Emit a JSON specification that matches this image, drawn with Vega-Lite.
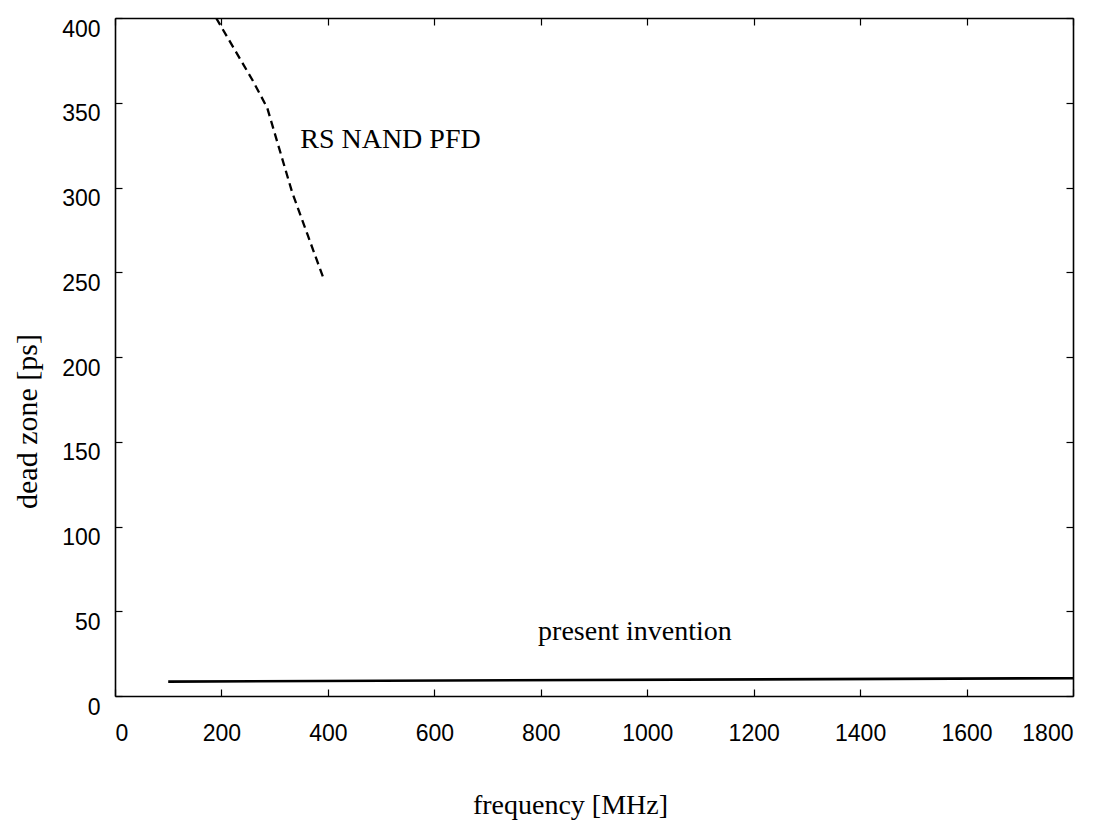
{
  "$schema": "https://vega.github.io/schema/vega-lite/v6.json",
  "width": 958,
  "height": 678,
  "autosize": "none",
  "padding": {"left": 115, "top": 18, "right": 27, "bottom": 127},
  "background": "white",
  "config": {
    "view": {"stroke": null},
    "axis": {
      "grid": false,
      "domainColor": "black",
      "domainWidth": 1.6,
      "tickColor": "black",
      "tickWidth": 1.2,
      "tickSize": -7,
      "labelColor": "black",
      "labelFont": "Liberation Sans",
      "labelFontSize": 23,
      "format": "d",
      "titleColor": "black",
      "titleFont": "Liberation Serif",
      "titleFontWeight": "normal"
    }
  },
  "datasets": {
    "curves": [
      {"series": "RS NAND PFD", "f": 190, "dz": 400},
      {"series": "RS NAND PFD", "f": 259, "dz": 363},
      {"series": "RS NAND PFD", "f": 286, "dz": 347},
      {"series": "RS NAND PFD", "f": 333, "dz": 297},
      {"series": "RS NAND PFD", "f": 362, "dz": 272},
      {"series": "RS NAND PFD", "f": 391, "dz": 247},
      {"series": "present invention", "f": 100, "dz": 8.5},
      {"series": "present invention", "f": 1800, "dz": 10.5}
    ],
    "labels": [
      {"f": 348, "dz": 328, "text": "RS NAND PFD"},
      {"f": 795, "dz": 38, "text": "present invention"}
    ]
  },
  "layer": [
    {
      "data": {"name": "curves"},
      "transform": [{"filter": "datum.series === 'RS NAND PFD'"}],
      "mark": {"type": "line", "color": "black", "strokeWidth": 2.3, "strokeDash": [8, 5], "clip": true},
      "encoding": {
        "x": {
          "field": "f", "type": "quantitative",
          "scale": {"domain": [0, 1800], "nice": false},
          "axis": {
            "orient": "bottom",
            "format": "d",
            "values": [0, 200, 400, 600, 800, 1000, 1200, 1400, 1600, 1800],
            "labelPadding": 33,
            "title": "frequency [MHz]",
            "titleFontSize": 28,
            "titleX": 455,
            "titleY": 109,
            "titleBaseline": "middle",
            "titleAlign": "center"
          }
        },
        "y": {
          "field": "dz", "type": "quantitative",
          "scale": {"domain": [0, 400], "nice": false},
          "axis": {
            "orient": "left",
            "format": "d",
            "values": [0, 50, 100, 150, 200, 250, 300, 350, 400],
            "labelPadding": 22,
            "labelOffset": 11,
            "title": "dead zone [ps]",
            "titleFontSize": 30,
            "titleX": -88,
            "titleY": 403,
            "titleBaseline": "middle",
            "titleAlign": "center",
            "titleAngle": -90
          }
        }
      }
    },
    {
      "data": {"name": "curves"},
      "transform": [{"filter": "datum.series === 'present invention'"}],
      "mark": {"type": "line", "color": "black", "strokeWidth": 2.6},
      "encoding": {
        "x": {
          "field": "f", "type": "quantitative",
          "axis": {"orient": "top", "labels": false, "title": null,
                   "values": [0, 200, 400, 600, 800, 1000, 1200, 1400, 1600, 1800]}
        },
        "y": {
          "field": "dz", "type": "quantitative",
          "axis": {"orient": "right", "labels": false, "title": null,
                   "values": [0, 50, 100, 150, 200, 250, 300, 350, 400]}
        }
      }
    },
    {
      "data": {"name": "labels"},
      "mark": {"type": "text", "align": "left", "baseline": "middle", "font": "Liberation Serif", "fontSize": 28, "color": "black"},
      "encoding": {
        "x": {"field": "f", "type": "quantitative", "axis": null},
        "y": {"field": "dz", "type": "quantitative", "axis": null},
        "text": {"field": "text"}
      }
    }
  ],
  "resolve": {"axis": {"x": "independent", "y": "independent"}}
}
